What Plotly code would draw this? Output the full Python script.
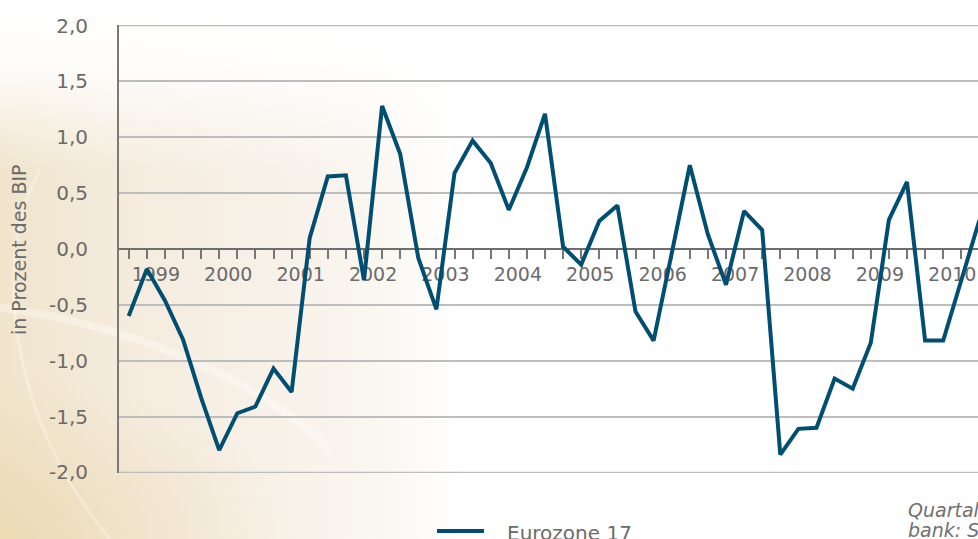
import base64
import plotly.graph_objects as go

# ---- data -------------------------------------------------------------
years = [1999, 2000, 2001, 2002, 2003, 2004, 2005, 2006, 2007, 2008, 2009, 2010]
quarters = [f"{y} Q{q}" for y in years for q in (1, 2, 3, 4)]
eurozone17 = [
    -0.60, -0.18, -0.46, -0.81,   # 1999
    -1.33, -1.80, -1.47, -1.41,   # 2000
    -1.07, -1.28, 0.10, 0.65,     # 2001
    0.66, -0.28, 1.28, 0.85,      # 2002
    -0.08, -0.54, 0.68, 0.97,     # 2003
    0.77, 0.35, 0.73, 1.21,       # 2004
    0.02, -0.14, 0.25, 0.39,      # 2005
    -0.56, -0.82, -0.04, 0.75,    # 2006
    0.13, -0.32, 0.34, 0.17,      # 2007
    -1.84, -1.61, -1.60, -1.16,   # 2008
    -1.25, -0.84, 0.26, 0.60,     # 2009
    -0.82, -0.82, -0.28, 0.26,    # 2010
]
y_tickvals = [2.0, 1.5, 1.0, 0.5, 0.0, -0.5, -1.0, -1.5, -2.0]
y_ticktext = ["2,0", "1,5", "1,0", "0,5", "0,0", "-0,5", "-1,0", "-1,5", "-2,0"]
series_name = "Eurozone 17"
y_title = "in Prozent des BIP"
note_lines = ["Quartalswerte, saisonbereinigt; Quelle: Europäische Zentral-",
              "bank: Statistical Data Warehouse"]

# ---- geometry ----------------------------------------------------------
W, H = 978, 539
L, T, B = 119, 25, 66
PW, PH = W - L, H - T - B

def px_x(p):
    return (p - L) / PW

def px_y(p):
    return (H - B - p) / PH

LINE = "#004f72"
GREY = "#6b6b6b"
GRID = "#bdbdbd"

x_idx = list(range(len(quarters)))
year_pos = [quarters.index(f"{y} Q1") + 1.5 for y in years]

# ---- background (subtle beige decorative gradient) ---------------------
svg = f"""<svg xmlns='http://www.w3.org/2000/svg' width='{W}' height='{H}' viewBox='0 0 {W} {H}'>
<defs>
<linearGradient id='h' x1='0' y1='0' x2='1' y2='0'>
<stop offset='0' stop-color='#f0e4cb'/>
<stop offset='0.12' stop-color='#f4ebdc'/>
<stop offset='0.28' stop-color='#f7f1e8'/>
<stop offset='0.38' stop-color='#faf6f0'/>
<stop offset='0.44' stop-color='#fdfcfa'/>
<stop offset='0.47' stop-color='#ffffff'/>
</linearGradient>
<linearGradient id='v' x1='0' y1='0' x2='0' y2='1'>
<stop offset='0' stop-color='#ffffff' stop-opacity='1'/>
<stop offset='0.12' stop-color='#ffffff' stop-opacity='0.9'/>
<stop offset='0.32' stop-color='#ffffff' stop-opacity='0.0'/>
</linearGradient>
<radialGradient id='r' cx='0.0' cy='1.0' r='0.30'>
<stop offset='0' stop-color='#e8d3a4' stop-opacity='0.6'/>
<stop offset='1' stop-color='#e8d3a4' stop-opacity='0'/>
</radialGradient>
</defs>
<rect width='{W}' height='{H}' fill='url(#h)'/>
<rect width='{W}' height='{H}' fill='url(#r)'/>
<rect width='{W}' height='{H}' fill='url(#v)'/>
<path d='M-20,305 C110,320 250,370 330,450' stroke='#ffffff' stroke-opacity='0.35' stroke-width='8' fill='none'/>
<path d='M40,170 C-10,260 10,420 110,539' stroke='#ffffff' stroke-opacity='0.3' stroke-width='3' fill='none'/>
</svg>"""
bg_uri = "data:image/svg+xml;base64," + base64.b64encode(svg.encode()).decode()

# ---- figure ------------------------------------------------------------
fig = go.Figure()
fig.add_trace(go.Scatter(
    x=x_idx, y=eurozone17, mode="lines", name=series_name,
    customdata=quarters,
    line=dict(color=LINE, width=4), showlegend=False,
    hovertemplate="%{customdata}: %{y:.2f}<extra></extra>",
))

fig.update_layout(
    width=W, height=H,
    margin=dict(l=L, r=0, t=T, b=B, pad=0),
    paper_bgcolor="white",
    plot_bgcolor="rgba(0,0,0,0)",
    font=dict(family="DejaVu Sans", color=GREY, size=19),
    images=[dict(source=bg_uri, xref="paper", yref="paper",
                 x=px_x(0), y=px_y(0), sizex=W / PW, sizey=H / PH,
                 xanchor="left", yanchor="top", sizing="stretch", layer="below")],
)

fig.update_xaxes(
    range=[(L - 128.7) / 18.1, (W - 128.7) / 18.1],
    anchor="free", position=0.5,
    showline=True, linecolor="#6e6e6e", linewidth=2.4,
    showgrid=False, zeroline=False,
    tickmode="array", tickvals=year_pos, ticktext=[str(y) for y in years],
    ticks="", ticklabelstandoff=8,
    tickfont=dict(size=19, color=GREY),
    minor=dict(tickmode="linear", tick0=0, dtick=1, ticks="outside",
               ticklen=9, tickwidth=2, tickcolor="#777777", showgrid=False),
    layer="below traces",
)
fig.update_yaxes(
    range=[-2.005, 2.005],
    tickmode="array", tickvals=y_tickvals, ticktext=y_ticktext,
    tickfont=dict(size=20, color=GREY),
    showline=True, linecolor="#7a7a7a", linewidth=2,
    showgrid=True, gridcolor=GRID, gridwidth=1.5,
    zeroline=False, ticks="", ticklabelstandoff=25,
)

# outer gridlines at the range ends (plotly skips grid lines on the edges)
for yv in (y_tickvals[0], y_tickvals[-1]):
    fig.add_shape(type="line", xref="paper", yref="y", x0=0, x1=1, y0=yv, y1=yv,
                  line=dict(color=GRID, width=1.5), layer="below")

# y-axis title
fig.add_annotation(text=y_title, textangle=-90, xref="paper", yref="paper",
                   x=px_x(19), y=px_y(250), xanchor="center", yanchor="middle",
                   showarrow=False, font=dict(size=19, color=GREY))

# legend (manual, to match sample length)
fig.add_shape(type="line", xref="paper", yref="paper",
              x0=px_x(437), x1=px_x(484), y0=px_y(531), y1=px_y(531),
              line=dict(color=LINE, width=4))
fig.add_annotation(text=series_name, xref="paper", yref="paper",
                   x=px_x(505), y=px_y(533), xanchor="left", yanchor="middle",
                   showarrow=False, font=dict(size=20, color=GREY))

# source note (cut off at the right edge like the original)
fig.add_annotation(text=note_lines[0], xref="paper", yref="paper",
                   x=px_x(906), y=px_y(510), xanchor="left", yanchor="middle",
                   showarrow=False, font=dict(size=19, color="#707070", style="italic"))
fig.add_annotation(text=note_lines[1], xref="paper", yref="paper",
                   x=px_x(906), y=px_y(530), xanchor="left", yanchor="middle",
                   showarrow=False, font=dict(size=19, color="#707070", style="italic"))

fig.write_html("out.html", config={"displayModeBar": False},
               post_script="document.body.style.margin='0';document.body.style.overflow='hidden';")
